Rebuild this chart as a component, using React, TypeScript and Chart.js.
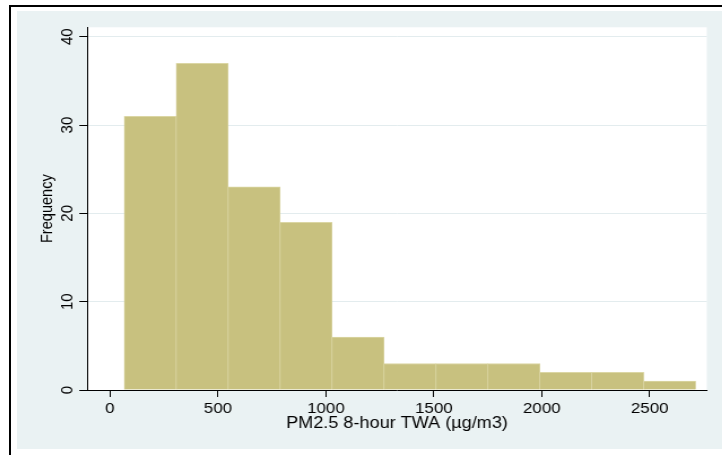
import { useEffect, useRef } from "react";
import { Chart, registerables } from "chart.js";

Chart.register(...registerables);

// Histogram bins: first edge and common width (µg/m3), and count per bin
const binStart = 66;
const binWidth = 240.6;
const frequencies = [31, 37, 23, 19, 6, 3, 3, 3, 2, 2, 1];

// Axis ticks and ranges
const xTickValues = [0, 500, 1000, 1500, 2000, 2500];
const yTickValues = [0, 10, 20, 30, 40];
const xRange = [-105, 2764];
const yRange = [0, 41.07];

const xTitle = "PM2.5 8-hour TWA (µg/m3)";
const yTitle = "Frequency";

// The drawing is laid out on a narrower canvas and widened horizontally
const STRETCH = 1.13;
const CANVAS_W = 624;
const CANVAS_H = 438;

const FONT = "'Liberation Sans', Arial, Helvetica, sans-serif";
const PAGE_BG = "#EAF2F3";
const GRID = "#E3ECEE";
const BAR_FILL = "rgb(200,193,127)";
const BAR_EDGE = "rgb(219,214,164)";

const plainNumber = (v: any) => String(v);

const plotBackground = {
  id: "plotBackground",
  beforeDraw(chart: any) {
    const { ctx, chartArea: a } = chart;
    ctx.save();
    ctx.fillStyle = "#ffffff";
    ctx.fillRect(a.left, a.top, a.right - a.left, a.bottom - a.top);
    ctx.restore();
  },
};

function Histogram() {
  const ref = useRef<HTMLCanvasElement | null>(null);

  useEffect(() => {
    if (!ref.current) return;
    const points = frequencies.map((f, i) => ({
      x: binStart + binWidth * (i + 0.5),
      y: f,
    }));

    const chart = new Chart(ref.current, {
      type: "bar",
      data: {
        datasets: [
          {
            data: points as any,
            backgroundColor: BAR_FILL,
            borderColor: BAR_EDGE,
            borderWidth: { top: 1, left: 0.7, right: 0.7, bottom: 0 } as any,
            borderSkipped: false,
            barPercentage: 1,
            categoryPercentage: 1,
          },
        ],
      },
      options: {
        responsive: false,
        animation: false,
        devicePixelRatio: 1,
        layout: { padding: { top: 16.3, right: 13.6, left: 0, bottom: 0 } },
        plugins: {
          legend: { display: false },
          tooltip: { enabled: false },
          title: { display: false },
        },
        scales: {
          x: {
            type: "linear",
            min: xRange[0],
            max: xRange[1],
            offset: false,
            afterBuildTicks: (s: any) => {
              s.ticks = xTickValues.map((v) => ({ value: v }));
            },
            afterFit: (s: any) => {
              s.height = 59;
            },
            grid: {
              offset: false,
              drawOnChartArea: false,
              drawTicks: true,
              tickLength: 7,
              tickColor: "#000",
              lineWidth: 1,
            },
            border: { display: true, color: "#000", width: 1, z: 2 },
            ticks: {
              color: "#000",
              font: { family: FONT, size: 15 },
              padding: 3,
              maxRotation: 0,
              minRotation: 0,
              autoSkip: false,
              callback: plainNumber,
            },
            title: {
              display: true,
              text: xTitle,
              color: "#000",
              font: { family: FONT, size: 16 },
              padding: { top: 0, bottom: 15.7 },
            },
          },
          y: {
            type: "linear",
            min: yRange[0],
            max: yRange[1],
            afterBuildTicks: (s: any) => {
              s.ticks = yTickValues.map((v) => ({ value: v }));
            },
            afterFit: (s: any) => {
              s.width = 62.2;
            },
            grid: {
              color: GRID,
              lineWidth: 1,
              drawTicks: true,
              tickLength: 7.1,
              tickColor: "#000",
            },
            border: { display: true, color: "#000", width: 1, z: 2 },
            ticks: {
              color: "#000",
              font: { family: FONT, size: 15 },
              padding: 1.7,
              minRotation: 90,
              maxRotation: 90,
              crossAlign: "center",
              autoSkip: false,
              callback: plainNumber,
            },
            title: {
              display: true,
              text: yTitle,
              color: "#000",
              font: { family: FONT, size: 14.6 },
              padding: { top: 18.4, bottom: 0 },
            },
          },
        },
      },
      plugins: [plotBackground],
    } as any);

    return () => chart.destroy();
  }, []);

  return (
    <canvas
      ref={ref}
      width={CANVAS_W}
      height={CANVAS_H}
      style={{
        position: "absolute",
        left: 17,
        top: 11,
        width: CANVAS_W,
        height: CANVAS_H,
        transform: `scaleX(${STRETCH})`,
        transformOrigin: "0 0",
      }}
    />
  );
}

export default function App() {
  return (
    <div
      style={{
        position: "absolute",
        left: 0,
        top: 0,
        width: 722,
        height: 455,
        background: "#ffffff",
        overflow: "hidden",
      }}
    >
      {/* outer frame */}
      <div
        style={{
          position: "absolute",
          left: 9,
          top: 5,
          width: 720,
          height: 460,
          borderTop: "2px solid #000",
          borderLeft: "2px solid #000",
        }}
      />
      {/* graph region */}
      <div
        style={{
          position: "absolute",
          left: 17,
          top: 11,
          width: 705,
          height: 438,
          background: PAGE_BG,
        }}
      />
      <Histogram />
    </div>
  );
}
